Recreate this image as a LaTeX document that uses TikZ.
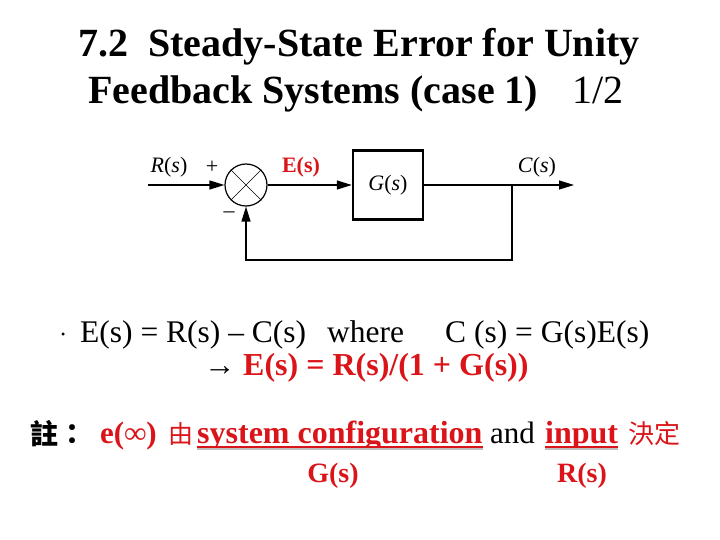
\documentclass[tikz,border=0pt]{standalone}
\usepackage{fontspec}
\setmainfont{Liberation Serif}
\newfontfamily\cjk{Noto Sans CJK TC}
\usetikzlibrary{arrows.meta,positioning}
\definecolor{hired}{RGB}{218,20,24}

\begin{document}
\begin{tikzpicture}[x=1pt,y=-1pt,
    sig/.style={line width=1.2pt,-{Triangle[length=15pt,width=9pt]}},
    txt/.style={anchor=base west,inner sep=0pt},
    bd/.style={font=\fontsize{22}{24}\selectfont,inner sep=0pt},
    uline/.style={line width=2pt,hired}]
  \useasboundingbox (0,0) rectangle (720,540);

  % title
  \node[txt,font=\fontsize{40}{44}\selectfont\bfseries]
    (t1) at (78,57) {7.2\ \ Steady-State Error for Unity};
  \node[txt,font=\fontsize{40}{44}\selectfont\bfseries]
    (t2) at (88,104) {Feedback Systems (case 1)};
  \node[txt,font=\fontsize{40}{44}\selectfont] (page) at (572,104) {1/2};

  % block diagram
  \node[circle,draw,line width=1.2pt,minimum size=42pt,inner sep=0pt] (sum) at (246,185) {};
  \draw[line width=0.6pt] (sum.north west) -- (sum.south east)
    (sum.north east) -- (sum.south west);
  \node[draw,line width=2.4pt,minimum width=70pt,minimum height=69pt,
    font=\fontsize{22}{24}\selectfont] (G) at (388,185) {\textit{G}(\textit{s})};
  \coordinate (in) at (148,185);
  \coordinate (out) at (574,185);
  \coordinate (branch) at (512,185);
  \coordinate (fb) at (512,260);
  \draw[sig] (in) -- (sum);
  \draw[sig] (sum) -- (G);
  \draw[sig] (G) -- (out);
  \draw[sig] (branch) -- (fb) -| (sum.south);
  \node[bd] (rlab) at (169,167) {\textit{R}(\textit{s})};
  \node[bd] (plus) at (212,167) {+};
  \node[bd] (minus) at (229,215) {\textendash};
  \node[bd,text=hired,font=\fontsize{22}{24}\selectfont\bfseries] (elab) at (301,167) {E(s)};
  \node[bd] (clab) at (537,167) {\textit{C}(\textit{s})};

  % equations
  \node[txt] (dot) at (61,338) {\fontsize{12}{12}\selectfont\textbullet};
  \node[txt,font=\fontsize{31.5}{34}\selectfont] (eq1) at (80,342)
    {E(s) = R(s) \textendash\ C(s)};
  \node[txt,font=\fontsize{31.5}{34}\selectfont] (where) at (327,342) {where};
  \node[txt,font=\fontsize{31.5}{34}\selectfont] (eq1b) at (445,342) {C (s) = G(s)E(s)};
  \node[txt,font=\fontsize{31.5}{34}\selectfont] (arr) at (204,375) {→};
  \node[txt,text=hired,font=\fontsize{32}{34}\selectfont\bfseries] (eq2) at (243,375)
    {E(s) = R(s)/(1 + G(s))};

  % note
  \node[txt,font=\fontsize{28}{32}\selectfont\cjk\bfseries] (note) at (30,444) {註：};
  \node[txt,text=hired,font=\fontsize{31}{34}\selectfont\bfseries] (einf) at (100,443) {e(∞)};
  \node[txt,text=hired,font=\fontsize{25}{28}\selectfont\cjk] (you) at (168,443) {由};
  \node[txt,text=hired,font=\fontsize{32}{34}\selectfont\bfseries] (conf) at (197,443)
    {system configuration};
  \node[txt,font=\fontsize{31}{34}\selectfont] (and) at (490,443) {and};
  \node[txt,text=hired,font=\fontsize{32}{34}\selectfont\bfseries] (inp) at (545,443)
    {input\ };
  \node[txt,text=hired,font=\fontsize{26}{28}\selectfont\cjk] (dec) at (628,443) {決定};
  \draw[line width=2pt,black!25] ([yshift=-6pt]conf.base west) -- ([yshift=-6pt]conf.base east);
  \draw[line width=2pt,black!25] ([yshift=-6pt]inp.base west) -- ([yshift=-6pt]inp.base east);
  \draw[uline] ([yshift=-3.5pt]conf.base west) -- ([yshift=-3.5pt]conf.base east);
  \draw[uline] ([yshift=-3.5pt]inp.base west) -- ([yshift=-3.5pt]inp.base east);
  \node[anchor=base,inner sep=0pt,text=hired,font=\fontsize{28}{32}\selectfont\bfseries]
    (gs) at (333,482) {G(s)};
  \node[anchor=base,inner sep=0pt,text=hired,font=\fontsize{28}{32}\selectfont\bfseries]
    (rs) at (582,482) {R(s)};
\end{tikzpicture}
\end{document}
